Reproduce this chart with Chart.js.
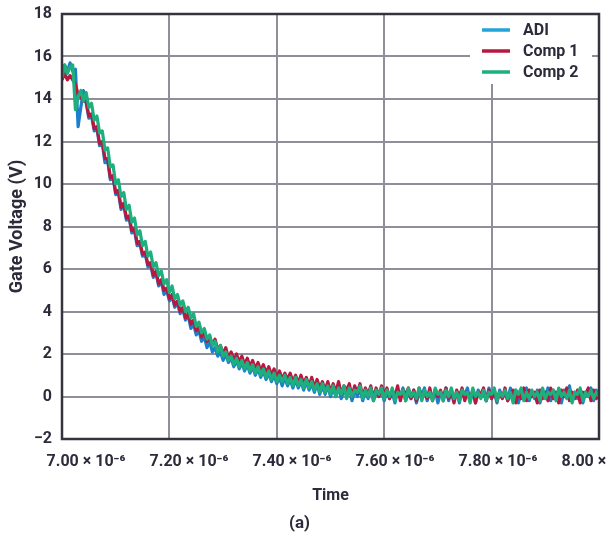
<!DOCTYPE html>
<html>
<head>
<meta charset="utf-8">
<script src="https://cdn.jsdelivr.net/npm/chart.js@4"></script>
<style>
  html, body { margin: 0; padding: 0; background: #ffffff; }
  #wrap { width: 606px; height: 538px; }
</style>
</head>
<body>
<div id="wrap"><canvas id="c" width="606" height="538"></canvas></div>
<script>
// Time in microseconds (axis shown as x 10^-6 s)
const times = [
  7.000,7.005,7.010,7.015,7.020,7.025,7.030,7.035,7.040,7.045,7.050,7.055,7.060,7.065,7.070,7.075,7.080,7.085,7.090,7.095,
  7.100,7.105,7.110,7.115,7.120,7.125,7.130,7.135,7.140,7.145,7.150,7.155,7.160,7.165,7.170,7.175,7.180,7.185,7.190,7.195,
  7.200,7.205,7.210,7.215,7.220,7.225,7.230,7.235,7.240,7.245,7.250,7.255,7.260,7.265,7.270,7.275,7.280,7.285,7.290,7.295,
  7.300,7.305,7.310,7.315,7.320,7.325,7.330,7.335,7.340,7.345,7.350,7.355,7.360,7.365,7.370,7.375,7.380,7.385,7.390,7.395,
  7.400,7.405,7.410,7.415,7.420,7.425,7.430,7.435,7.440,7.445,7.450,7.455,7.460,7.465,7.470,7.475,7.480,7.485,7.490,7.495,
  7.500,7.505,7.510,7.515,7.520,7.525,7.530,7.535,7.540,7.545,7.550,7.555,7.560,7.565,7.570,7.575,7.580,7.585,7.590,7.595,
  7.600,7.605,7.610,7.615,7.620,7.625,7.630,7.635,7.640,7.645,7.650,7.655,7.660,7.665,7.670,7.675,7.680,7.685,7.690,7.695,
  7.700,7.705,7.710,7.715,7.720,7.725,7.730,7.735,7.740,7.745,7.750,7.755,7.760,7.765,7.770,7.775,7.780,7.785,7.790,7.795,
  7.800,7.805,7.810,7.815,7.820,7.825,7.830,7.835,7.840,7.845,7.850,7.855,7.860,7.865,7.870,7.875,7.880,7.885,7.890,7.895,
  7.900,7.905,7.910,7.915,7.920,7.925,7.930,7.935,7.940,7.945,7.950,7.955,7.960,7.965,7.970,7.975,7.980,7.985,7.990,7.995,
  8.000
];

const adi = [
  15.4,15.6,15.3,15.7,15.3,15.4,12.7,13.6,14.4,13.8,13.1,13.2,12.5,12.6,11.8,11.9,11.0,11.1,10.2,10.3,
  9.5,9.6,8.8,9.0,8.3,8.4,7.7,7.8,7.1,7.2,6.6,6.7,6.1,6.2,5.6,5.8,5.2,5.4,4.8,5.0,
  4.5,4.7,4.2,4.4,3.9,4.1,3.6,3.8,3.2,3.4,2.9,3.1,2.6,2.8,2.3,2.6,2.1,2.3,1.9,2.1,
  1.7,2.0,1.6,1.8,1.4,1.7,1.3,1.6,1.2,1.5,1.1,1.4,1.0,1.3,0.9,1.2,0.8,1.1,0.7,1.0,
  0.6,0.9,0.5,0.9,0.5,0.8,0.4,0.8,0.4,0.7,0.3,0.7,0.3,0.6,0.2,0.6,0.1,0.5,0.1,0.5,
  0.0,0.4,0.0,0.5,-0.1,0.3,0.1,0.4,-0.2,0.3,0.0,0.4,-0.2,0.3,-0.1,0.4,-0.2,0.2,0.0,0.3,
  -0.2,0.3,-0.1,0.2,-0.3,0.3,0.0,0.4,-0.2,0.2,-0.1,0.3,-0.3,0.2,0.1,0.4,-0.2,0.2,-0.1,0.3,
  -0.3,0.2,0.0,0.4,-0.2,0.3,-0.1,0.2,-0.3,0.3,0.1,0.4,-0.2,0.2,-0.3,0.3,0.0,0.2,-0.2,0.4,
  -0.1,0.2,-0.3,0.3,0.0,0.2,-0.2,0.4,-0.1,0.3,-0.3,0.2,0.1,0.4,-0.2,0.2,-0.1,0.3,-0.3,0.2,
  0.0,0.4,-0.2,0.3,-0.1,0.2,-0.3,0.3,0.1,0.5,-0.2,0.2,-0.1,0.3,-0.3,0.2,0.0,0.4,-0.2,0.3,
  -0.1
];

const comp1 = [
  14.9,15.2,14.9,15.1,14.9,14.7,14.2,14.1,13.9,13.9,13.2,13.3,12.6,12.7,11.9,12.0,11.2,11.2,10.3,10.4,
  9.6,9.7,8.9,9.1,8.4,8.5,7.8,7.9,7.2,7.3,6.7,6.8,6.2,6.3,5.7,5.9,5.3,5.5,5.0,5.1,
  4.6,4.8,4.3,4.5,4.0,4.2,3.7,3.9,3.4,3.6,3.1,3.3,2.8,3.1,2.6,2.8,2.4,2.7,2.2,2.4,
  2.0,2.3,1.8,2.1,1.7,2.0,1.6,1.9,1.5,1.8,1.4,1.7,1.3,1.6,1.2,1.5,1.1,1.4,1.0,1.3,
  0.9,1.2,0.8,1.1,0.8,1.1,0.7,1.0,0.6,1.0,0.6,0.9,0.5,0.9,0.4,0.8,0.4,0.7,0.3,0.7,
  0.2,0.6,0.2,0.7,0.1,0.5,0.3,0.6,0.0,0.5,0.2,0.6,0.0,0.4,0.1,0.5,-0.1,0.4,0.0,0.5,
  0.1,0.4,-0.1,0.3,0.0,0.5,-0.2,0.3,0.1,0.4,-0.1,0.3,-0.2,0.4,0.0,0.2,-0.1,0.4,-0.2,0.3,
  0.0,0.3,-0.2,0.4,-0.1,0.2,-0.3,0.3,0.0,0.4,-0.2,0.2,-0.1,0.3,-0.3,0.2,0.1,0.4,-0.2,0.3,
  -0.1,0.3,-0.2,0.2,-0.1,0.4,-0.2,0.1,0.3,-0.3,0.2,-0.1,0.4,-0.2,0.3,0.0,0.2,-0.3,0.3,-0.1,
  0.2,-0.2,0.4,-0.1,0.2,-0.3,0.3,0.0,0.4,-0.2,0.2,-0.1,0.3,-0.3,0.2,0.1,0.4,-0.2,0.3,-0.1,
  0.2
];

const comp2 = [
  15.0,15.6,15.2,15.5,15.6,13.5,14.1,14.4,13.9,14.3,13.6,13.8,13.0,13.2,12.4,12.5,11.6,11.7,10.8,10.9,
  10.0,10.2,9.4,9.6,8.8,9.0,8.2,8.4,7.6,7.8,7.1,7.3,6.6,6.8,6.1,6.3,5.7,5.9,5.3,5.5,
  4.9,5.2,4.6,4.8,4.3,4.5,4.0,4.2,3.7,3.9,3.3,3.5,3.0,3.2,2.7,2.9,2.4,2.6,2.1,2.4,
  1.9,2.1,1.7,1.9,1.5,1.8,1.4,1.7,1.3,1.6,1.2,1.5,1.1,1.4,1.0,1.3,0.9,1.2,0.8,1.1,
  0.7,1.0,0.7,1.0,0.6,0.9,0.5,0.9,0.5,0.8,0.4,0.8,0.4,0.7,0.3,0.6,0.2,0.6,0.2,0.5,
  0.1,0.5,0.0,0.4,0.1,0.5,-0.1,0.4,0.0,0.3,0.2,0.5,-0.1,0.3,0.0,0.4,-0.2,0.3,0.1,0.4,
  -0.1,0.3,0.0,0.4,-0.2,0.2,0.1,0.3,-0.2,0.4,0.0,0.2,-0.1,0.4,-0.2,0.3,0.0,0.2,-0.2,0.4,
  0.1,0.2,-0.2,0.3,0.0,0.4,-0.1,0.2,-0.2,0.3,0.1,0.2,-0.3,0.4,0.0,0.2,-0.1,0.3,-0.2,0.2,
  0.1,0.4,-0.2,0.2,0.0,0.3,-0.1,0.2,-0.3,0.3,0.1,0.4,-0.2,0.2,-0.1,0.3,0.0,0.2,-0.2,0.4,
  -0.1,0.2,0.1,0.3,-0.2,0.4,0.0,0.2,-0.1,0.3,-0.3,0.2,0.1,0.4,-0.2,0.2,0.0,0.3,-0.1,0.2,
  0.0
];

const seriesNames = ['ADI', 'Comp 1', 'Comp 2'];
const seriesColors = ['#1c7fcc', '#b8173f', '#1daf7d'];
const legendColors = ['#23a3d8', '#b8173f', '#1daf7d'];
const xTicks = [7.0, 7.2, 7.4, 7.6, 7.8, 8.0];
const yTicks = [-2, 0, 2, 4, 6, 8, 10, 12, 14, 16, 18];
// the original's tick labels sit on a slightly compressed scale relative to its grid
const labelAxisRange = [6.9534, 7.9961];

const TXT = '#2b2b3a';
const FONT = 'Roboto, "Open Sans", sans-serif';
Chart.defaults.font.family = FONT;
Chart.defaults.color = TXT;

const toPts = arr => arr.map((v, i) => ({ x: times[i], y: v }));

const frameAndLegend = {
  id: 'frameAndLegend',
  afterDatasetsDraw(chart) {
    const { ctx, chartArea: a } = chart;
    ctx.save();
    const lx = 470, ly = 15, lw = 122, lh = 69;
    ctx.fillStyle = '#ffffff';
    ctx.fillRect(lx, ly, lw, lh);
    const rows = [30, 51, 72];
    ctx.font = 'bold 16px ' + FONT;
    ctx.textBaseline = 'middle';
    ctx.textAlign = 'left';
    rows.forEach((y, i) => {
      ctx.strokeStyle = legendColors[i];
      ctx.lineWidth = 3.5;
      ctx.beginPath();
      ctx.moveTo(482, y);
      ctx.lineTo(510, y);
      ctx.stroke();
      ctx.fillStyle = TXT;
      ctx.fillText(seriesNames[i], 523, y + 1);
    });
    ctx.strokeStyle = '#34343f';
    ctx.lineWidth = 2.5;
    ctx.strokeRect(a.left, a.top, a.right - a.left, a.bottom - a.top);
    ctx.restore();
  }
};

new Chart(document.getElementById('c'), {
  type: 'line',
  data: {
    datasets: [
      { label: seriesNames[0], data: toPts(adi), borderColor: seriesColors[0], order: 3 },
      { label: seriesNames[1], data: toPts(comp1), borderColor: seriesColors[1], order: 2 },
      { label: seriesNames[2], data: toPts(comp2), borderColor: seriesColors[2], order: 1 }
    ]
  },
  options: {
    responsive: false,
    animation: false,
    devicePixelRatio: 1,
    layout: { padding: { top: 14, right: 7, left: 0, bottom: 0 } },
    elements: {
      point: { radius: 0 },
      line: { borderWidth: 3.2, tension: 0, borderJoinStyle: 'round' }
    },
    plugins: {
      legend: { display: false },
      tooltip: { enabled: false },
      title: {
        display: true,
        text: '(a)',
        position: 'bottom',
        color: TXT,
        font: { size: 17, weight: 'bold' },
        padding: { top: 0, bottom: 4 }
      }
    },
    scales: {
      x: {
        type: 'linear',
        position: 'bottom',
        min: 7.0,
        max: 8.0,
        afterBuildTicks: s => { s.ticks = xTicks.map(v => ({ value: v })); },
        afterFit: s => { s.height = 0; s.paddingLeft = 0; s.paddingRight = 0; },
        grid: { color: '#8f8f99', lineWidth: 2, drawTicks: false },
        border: { display: false },
        ticks: { display: false }
      },
      xLabels: {
        type: 'linear',
        position: 'bottom',
        min: labelAxisRange[0],
        max: labelAxisRange[1],
        afterBuildTicks: s => { s.ticks = xTicks.map(v => ({ value: v })); },
        afterFit: s => { s.height = 74.6; s.paddingLeft = 0; s.paddingRight = 0; },
        grid: { display: false, drawTicks: false },
        border: { display: false },
        ticks: {
          autoSkip: false,
          maxRotation: 0,
          padding: 13,
          color: TXT,
          font: { size: 16, weight: 'bold' },
          callback: v => v.toFixed(2) + ' \u00d7 10\u207b\u2076'
        },
        title: {
          display: true,
          text: 'Time',
          color: TXT,
          font: { size: 16, weight: 'bold' },
          padding: { top: 0, bottom: 8 }
        }
      },
      y: {
        type: 'linear',
        min: -2,
        max: 18,
        afterBuildTicks: s => { s.ticks = yTicks.map(v => ({ value: v })); },
        afterFit: s => { s.width = 62; s.paddingTop = 0; s.paddingBottom = 0; },
        grid: { color: '#8f8f99', lineWidth: 2, drawTicks: false },
        border: { display: false },
        ticks: {
          padding: 10,
          color: TXT,
          font: { size: 16, weight: 'bold' },
          callback: v => v < 0 ? '\u2212' + Math.abs(v) : String(v)
        },
        title: {
          display: true,
          text: 'Gate Voltage (V)',
          color: TXT,
          font: { size: 18, weight: 'bold' },
          padding: { top: 7, bottom: 0 }
        }
      }
    }
  },
  plugins: [frameAndLegend]
});
</script>
</body>
</html>
